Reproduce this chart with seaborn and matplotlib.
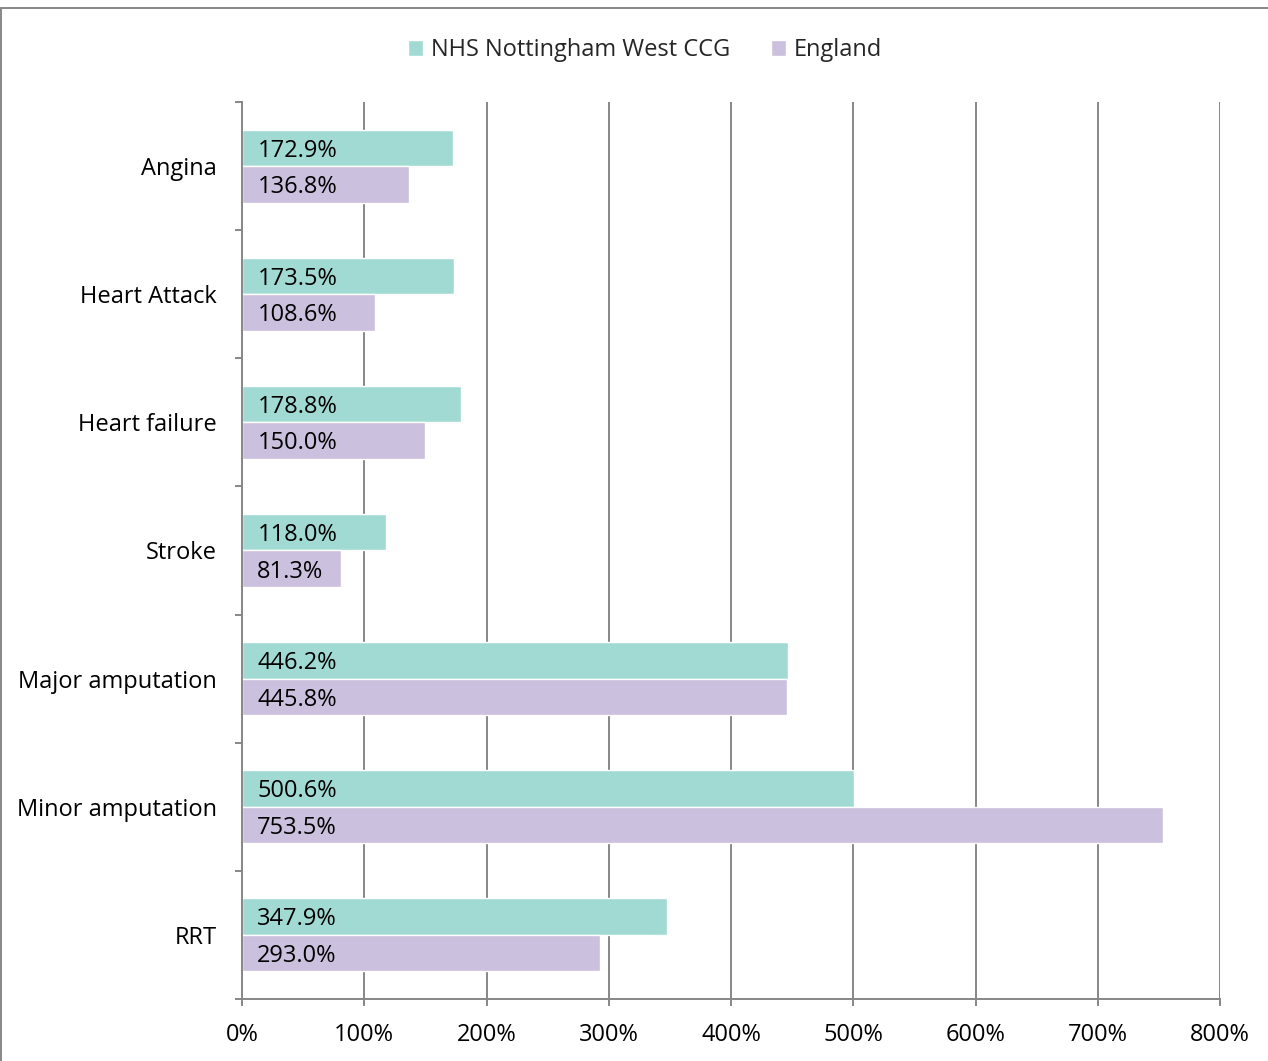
import pandas as pd
import seaborn as sns
import matplotlib.pyplot as plt
from matplotlib.patches import Rectangle
from matplotlib.ticker import FixedLocator, PercentFormatter

conditions = ["Angina", "Heart Attack", "Heart failure", "Stroke",
              "Major amputation", "Minor amputation", "RRT"]
nhs_values = [172.9, 173.5, 178.8, 118.0, 446.2, 500.6, 347.9]
england_values = [136.8, 108.6, 150.0, 81.3, 445.8, 753.5, 293.0]
series_names = ["NHS Nottingham West CCG", "England"]
x_ticks = [0, 100, 200, 300, 400, 500, 600, 700, 800]

TEAL = "#A1DAD3"
LILAC = "#CBC0DD"
GREY = "#878787"
FS = 17


def main():
    df = pd.DataFrame({
        "condition": conditions * 2,
        "value": nhs_values + england_values,
        "area": [series_names[0]] * len(conditions) + [series_names[1]] * len(conditions),
    })

    sns.set_style("white")
    plt.rcParams["font.family"] = ["Open Sans", "DejaVu Sans"]
    plt.rcParams["font.size"] = FS

    fig = plt.figure(figsize=(12.68, 10.61), dpi=100)
    ax = fig.add_axes([0.1909, 0.0584, 0.7713, 0.8455])

    sns.barplot(data=df, y="condition", x="value", hue="area", orient="h",
                palette=[TEAL, LILAC], saturation=1, width=0.57, gap=0,
                order=conditions, hue_order=series_names, ax=ax)

    # value labels at the left end of each bar
    for container, vals in zip(ax.containers, [nhs_values, england_values]):
        for bar, v in zip(container, vals):
            yc = bar.get_y() + bar.get_height() / 2
            ax.annotate(f"{v:.1f}%", xy=(0, yc), xytext=(11, -2),
                        textcoords="offset points", va="center", ha="left",
                        fontsize=FS, color="black")

    ax.set_xlim(0, 800)
    ax.set_ylim(len(conditions) - 0.5, -0.5)
    ax.xaxis.set_major_locator(FixedLocator(x_ticks))
    ax.xaxis.set_major_formatter(PercentFormatter(decimals=0))
    ax.grid(axis="x", color=GREY, linewidth=1.4)
    ax.grid(axis="y", visible=False)
    ax.set_axisbelow(True)

    for side in ["top", "right"]:
        ax.spines[side].set_visible(False)
    for side in ["left", "bottom"]:
        ax.spines[side].set_color(GREY)
        ax.spines[side].set_linewidth(1.4)

    ax.tick_params(axis="x", which="major", bottom=True, length=5, width=1.4,
                   color=GREY, pad=12, labelsize=FS, labelcolor="black")
    ax.tick_params(axis="y", which="major", left=False, length=0, pad=18,
                   labelsize=FS, labelcolor="black")
    ax.yaxis.set_minor_locator(FixedLocator([i - 0.5 for i in range(len(conditions) + 1)]))
    ax.tick_params(axis="y", which="minor", left=True, length=5, width=1.4, color=GREY)

    ax.set_xlabel("")
    ax.set_ylabel("")

    sns.move_legend(ax, "center", bbox_to_anchor=(0.412, 1.058), ncol=2,
                    frameon=False, title=None, fontsize=FS,
                    handlelength=0.65, handleheight=0.65, handletextpad=0.35,
                    columnspacing=1.7)

    fig.patches.append(Rectangle((0.0008, -0.05), 1.1, 0.0425 + 1.0, transform=fig.transFigure,
                                 fill=False, edgecolor=GREY, linewidth=1.4))

    fig.savefig("out.png", dpi=100)


if __name__ == "__main__":
    main()
